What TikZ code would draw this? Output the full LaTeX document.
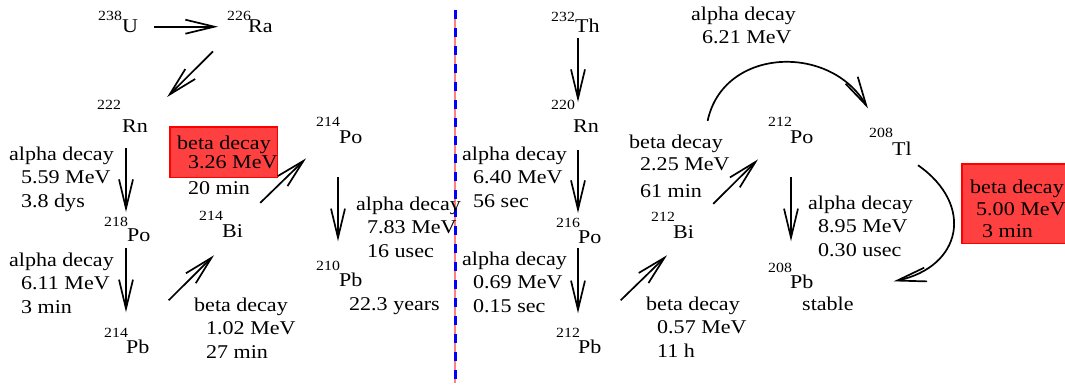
\documentclass[tikz,border=0pt]{standalone}
\usepackage{fontspec}
\setmainfont[FakeStretch=1.13]{Liberation Serif}
\usetikzlibrary{arrows.meta,backgrounds}

\newcommand{\ind}[1]{\hspace*{#1pt}}

\begin{document}
\begin{tikzpicture}[x=1pt, y=1pt,
    nuc/.style={anchor=base west, inner sep=0pt, font=\fontsize{19.5}{23.5}\selectfont},
    mass/.style={anchor=base west, inner sep=0pt, font=\fontsize{14}{16}\selectfont},
    lab/.style={anchor=north west, inner sep=0pt, align=left, font=\fontsize{19.5}{23.5}\selectfont},
    note/.style={anchor=base west, inner sep=0pt, font=\fontsize{19.5}{23.5}\selectfont},
    decay/.style={-{Straight Barb[length=29pt,width=14pt]}, line width=1.7pt},
    redbox/.style={fill=red!75, draw=red, line width=1.2pt}]
  \useasboundingbox (0,0) rectangle (1065,-385);
  % Divider between the two chains
  \draw[red!50, line width=1.2pt] (455,-10) -- (455,-383);
  \draw[blue, line width=3pt, dash pattern=on 9pt off 9pt] (455,-10) -- (455,-383);

  % Uranium chain
  \node[nuc]  (u238)   at (122,-33)  {U};
  \node[mass] (u238m)  at (98,-21)   {238};
  \node[nuc]  (ra226)  at (248,-33)  {Ra};
  \node[mass] (ra226m) at (227,-21)  {226};
  \node[nuc]  (rn222)  at (122,-132) {Rn};
  \node[mass] (rn222m) at (97,-110)  {222};
  \node[nuc]  (po218)  at (127,-241) {Po};
  \node[mass] (po218m) at (104,-226) {218};
  \node[nuc]  (pb214)  at (126,-353) {Pb};
  \node[mass] (pb214m) at (104,-337) {214};
  \node[nuc]  (bi214)  at (222,-237) {Bi};
  \node[mass] (bi214m) at (199,-220) {214};
  \node[nuc]  (po214)  at (339,-143) {Po};
  \node[mass] (po214m) at (316,-127) {214};
  \node[nuc]  (pb210)  at (339,-286) {Pb};
  \node[mass] (pb210m) at (316,-270) {210};

  % Uranium chain labels
  \node[lab] (rn222lab) at (9,-146.7)  {alpha decay\\\ind{12}5.59 MeV\\\ind{12}3.8 dys};
  \node[lab] (po218lab) at (9,-252.7)  {alpha decay\\\ind{12}6.11 MeV\\\ind{12}3 min};
  \node[lab] (bi214lab) at (177,-135.7) {beta decay\\[-4pt]\ind{11}3.26 MeV};
  \node[note] (bi214t)  at (188,-194)  {20 min};
  \node[lab] (po214lab) at (356,-196.7) {alpha decay\\\ind{11}7.83 MeV\\\ind{11}16 usec};
  \node[note] (pb210t)  at (349,-310)  {22.3 years};
  \node[lab] (pb214lab) at (194,-297.7) {beta decay\\\ind{12}1.02 MeV\\\ind{12}27 min};

  % Thorium chain
  \node[nuc]  (th232)  at (575,-33)  {Th};
  \node[mass] (th232m) at (551,-22)  {232};
  \node[nuc]  (rn220)  at (573,-132) {Rn};
  \node[mass] (rn220m) at (551,-110) {220};
  \node[nuc]  (po216)  at (578,-243) {Po};
  \node[mass] (po216m) at (556,-227) {216};
  \node[nuc]  (pb212)  at (578,-353) {Pb};
  \node[mass] (pb212m) at (556,-337) {212};
  \node[nuc]  (bi212)  at (673,-238) {Bi};
  \node[mass] (bi212m) at (651,-221) {212};
  \node[nuc]  (po212)  at (790,-143) {Po};
  \node[mass] (po212m) at (768,-127) {212};
  \node[nuc]  (tl208)  at (892,-155) {Tl};
  \node[mass] (tl208m) at (869,-138) {208};
  \node[nuc]  (pb208)  at (790,-288) {Pb};
  \node[mass] (pb208m) at (768,-272) {208};

  % Thorium chain labels
  \node[lab] (rn220lab) at (462,-146.7) {alpha decay\\\ind{11}6.40 MeV\\\ind{11}56 sec};
  \node[lab] (po216lab) at (462,-251.7) {alpha decay\\\ind{11}0.69 MeV\\\ind{11}0.15 sec};
  \node[lab] (pb212lab) at (646,-296.7) {beta decay\\\ind{11}0.57 MeV\\\ind{11}11 h};
  \node[lab] (bi212lab) at (629,-134.7) {beta decay\\[-1.5pt]\ind{11}2.25 MeV\\[3.5pt]\ind{11}61 min};
  \node[lab] (bi212alab) at (691,-6.7)  {alpha decay\\\ind{11}6.21 MeV};
  \node[lab] (po212lab) at (808,-195.7) {alpha decay\\\ind{10}8.95 MeV\\\ind{10}0.30 usec};
  \node[note] (pb208t)  at (802,-310)  {stable};
  \node[lab] (tl208lab) at (970,-179.7) {beta decay\\[-1.5pt]\ind{6}5.00 MeV\\[-1.5pt]\ind{12}3 min};

  % Red boxes behind the beta labels
  \begin{scope}[on background layer]
    \draw[redbox] ([shift={(-7,8.7)}]bi214lab.north west) rectangle ([shift={(0,-8)}]bi214lab.south east);
    \draw[redbox] ([shift={(-8,15.7)}]tl208lab.north west) rectangle ([shift={(0.5,-6)}]tl208lab.south east);
  \end{scope}

  % Uranium chain decays
  \draw[decay, shorten <=16pt, shorten >=9pt] (u238.east) -- (u238.east -| ra226m.west);
  \draw[decay] ([shift={(-35,-18)}]ra226.south west) -- ([shift={(19,22)}]rn222.north east);
  \draw[decay] ([shift={(4,-16)}]rn222.south west) -- ([shift={(-1,16)}]po218.north west);
  \draw[decay] ([shift={(-1,-7)}]po218.south west) -- ([shift={(0,27)}]pb214.north west);
  \draw[decay] ([shift={(19,39)}]pb214.north east) -- ([shift={(-8,-18)}]bi214.south west);
  \draw[decay] ([shift={(17,21)}]bi214.north east) -- ([shift={(-33,-15)}]po214.south west);
  \draw[decay] ([shift={(-1,-34)}]po214.south west) -- ([shift={(-1,31)}]pb210.north west);

  % Thorium chain decays
  \draw[decay] ([shift={(3,-5)}]th232.south west) -- ([shift={(5,17)}]rn220.north west);
  \draw[decay] ([shift={(5,-18)}]rn220.south west) -- ([shift={(0,17)}]po216.north west);
  \draw[decay] ([shift={(0,-5)}]po216.south west) -- ([shift={(0,26)}]pb212.north west);
  \draw[decay] ([shift={(19,39)}]pb212.north east) -- ([shift={(-6,-17)}]bi212.south west);
  \draw[decay] ([shift={(19,21)}]bi212.north east) -- ([shift={(-32,-16)}]po212.south west);
  \draw[decay] ([shift={(1,-34)}]po212.south west) -- ([shift={(1,33)}]pb208.north west);
  \draw[decay] ([shift={(24,104)}]bi212.north) to[out=78, in=120, looseness=1.2] ([shift={(-1,20)}]tl208m.north west);
  \draw[decay] ([shift={(6,-10)}]tl208.south east) to[out=-35, in=12, looseness=1.5] ([shift={(80,0)}]pb208.east);
\end{tikzpicture}
\end{document}
